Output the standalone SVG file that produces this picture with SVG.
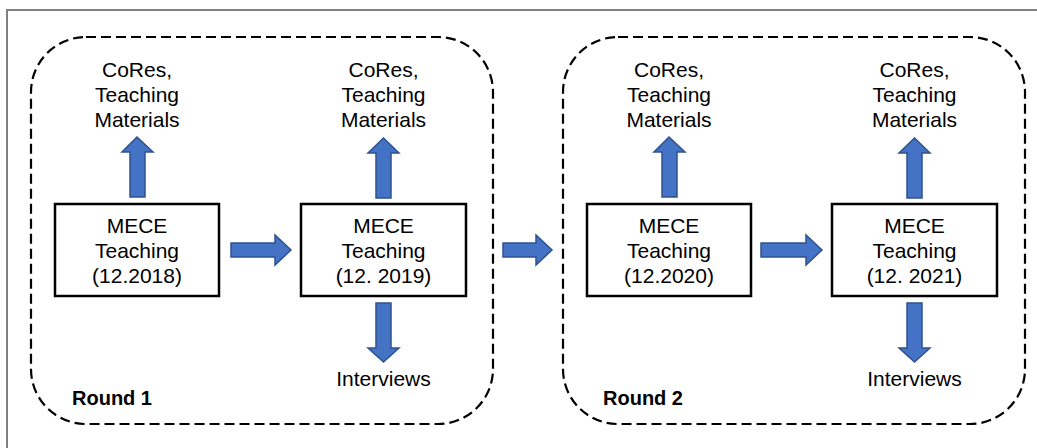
<svg xmlns="http://www.w3.org/2000/svg" width="1037" height="448" viewBox="0 0 1037 448">
<style>
.t{font-family:"Liberation Sans",Arial,sans-serif;font-size:21px;fill:#000;text-anchor:middle}
.b{font-family:"Liberation Sans",Arial,sans-serif;font-size:20px;font-weight:bold;fill:#000}
.box{fill:#fff;stroke:#000;stroke-width:2.5}
.round{fill:none;stroke:#000;stroke-width:2.2;stroke-dasharray:10 5}
.arr{fill:#4472C4;stroke:#2F528F;stroke-width:1.5;stroke-linejoin:miter}
</style>
<rect width="1037" height="448" fill="#fff"/>
<rect x="7" y="10" width="1040" height="450" fill="none" stroke="#808080" stroke-width="2"/>
<g id="round1">
<rect class="round" x="31" y="37" width="462" height="387" rx="55" ry="55"/>
<text class="b" x="72" y="405">Round 1</text>
</g>
<g id="round2">
<rect class="round" x="563" y="37" width="462" height="387" rx="55" ry="55"/>
<text class="b" x="603" y="405">Round 2</text>
</g>
<g id="teach2018">
<rect class="box" x="55" y="204" width="164" height="92"/>
<text class="t" x="137" y="233">MECE</text>
<text class="t" x="137" y="258">Teaching</text>
<text class="t" x="137" y="283">(12.2018)</text>
</g>
<g id="teach2019">
<rect class="box" x="301" y="204" width="165" height="92"/>
<text class="t" x="383.5" y="233">MECE</text>
<text class="t" x="383.5" y="258">Teaching</text>
<text class="t" x="383.5" y="283">(12. 2019)</text>
</g>
<g id="teach2020">
<rect class="box" x="587" y="204" width="164" height="92"/>
<text class="t" x="669" y="233">MECE</text>
<text class="t" x="669" y="258">Teaching</text>
<text class="t" x="669" y="283">(12.2020)</text>
</g>
<g id="teach2021">
<rect class="box" x="832" y="204" width="165" height="92"/>
<text class="t" x="914.5" y="233">MECE</text>
<text class="t" x="914.5" y="258">Teaching</text>
<text class="t" x="914.5" y="283">(12. 2021)</text>
</g>
<g id="cores1">
<text class="t" x="137" y="77">CoRes,</text>
<text class="t" x="137" y="102">Teaching</text>
<text class="t" x="137" y="127">Materials</text>
</g>
<g id="cores2">
<text class="t" x="383.5" y="77">CoRes,</text>
<text class="t" x="383.5" y="102">Teaching</text>
<text class="t" x="383.5" y="127">Materials</text>
</g>
<g id="cores3">
<text class="t" x="669" y="77">CoRes,</text>
<text class="t" x="669" y="102">Teaching</text>
<text class="t" x="669" y="127">Materials</text>
</g>
<g id="cores4">
<text class="t" x="914.5" y="77">CoRes,</text>
<text class="t" x="914.5" y="102">Teaching</text>
<text class="t" x="914.5" y="127">Materials</text>
</g>
<g id="interviews1">
<text class="t" x="383.5" y="386">Interviews</text>
</g>
<g id="interviews2">
<text class="t" x="914.5" y="386">Interviews</text>
</g>
<g id="connectors">
<path class="arr" d="M137,137 L153,152 L145,152 L145,197 L130,197 L130,152 L122,152 Z"/>
<path class="arr" d="M383.5,138 L399,153 L391,153 L391,198 L376,198 L376,153 L368,153 Z"/>
<path class="arr" d="M669,137 L685,152 L677,152 L677,197 L662,197 L662,152 L654,152 Z"/>
<path class="arr" d="M914.5,138 L930,153 L922,153 L922,198 L907,198 L907,153 L899,153 Z"/>
<path class="arr" d="M231,243 L275,243 L275,235 L291,250 L275,265 L275,257 L231,257 Z"/>
<path class="arr" d="M503,243 L536,243 L536,235 L552,250 L536,265 L536,257 L503,257 Z"/>
<path class="arr" d="M761,243 L806,243 L806,235 L822,250 L806,265 L806,257 L761,257 Z"/>
<path class="arr" d="M376,303 L391,303 L391,348 L399,348 L383.5,362 L368,348 L376,348 Z"/>
<path class="arr" d="M907,303 L922,303 L922,348 L930,348 L914.5,362 L899,348 L907,348 Z"/>
</g>
</svg>
